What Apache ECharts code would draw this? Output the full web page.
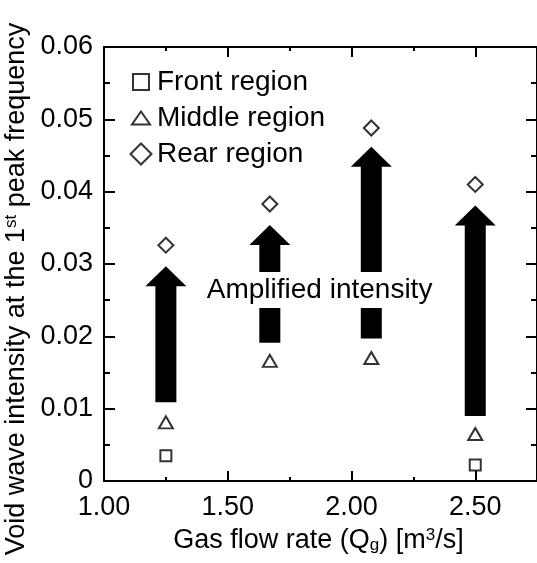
<!DOCTYPE html>
<html>
<head>
<meta charset="utf-8">
<script src="https://cdn.jsdelivr.net/npm/echarts@6/dist/echarts.min.js"></script>
<style>
  html, body { margin: 0; padding: 0; background: #fff; }
  #chart { width: 537px; height: 563px; }
</style>
</head>
<body>
<div id="chart"></div>
<script>
// gas flow rates (m3/s) of the four cases
const flowRate = [1.25, 1.67, 2.08, 2.5];
// front region only shows at two flow rates
const frontX = [1.25, 2.5];
const frontY = [0.0035, 0.0022];
const middleY = [0.0081, 0.0166, 0.0170, 0.0065];
const rearY = [0.0326, 0.0383, 0.0488, 0.0410];
// amplification arrows: from / to
const arrowFrom = [0.0109, 0.0191, 0.0197, 0.0090];
const arrowTo = [0.0297, 0.0354, 0.0462, 0.0381];
const noteText = ["Amplified intensity"];
const noteX = [1.871];
const noteY = [0.0264];
const seriesNames = ["Front region", "Middle region", "Rear region"];

const FONT = "'Liberation Sans', Arial, sans-serif";
const black = "#000";

const chart = echarts.init(document.getElementById("chart"));

const hollow = { color: "#fff", borderColor: black, borderWidth: 2 };
const tickStyle = { color: black, width: 2 };

function xAxisBase(pos) {
  return {
    type: "value",
    position: pos,
    min: 1,
    max: 3, // 2.75 sits on the right edge of the window
    interval: 0.5,
    axisLine: { onZero: false, lineStyle: { color: black, width: 2 } },
    axisTick: { inside: true, length: 10, lineStyle: tickStyle },
    minorTick: { show: true, splitNumber: 2, length: 4, lineStyle: tickStyle },
    splitLine: { show: false },
    minorSplitLine: { show: false },
  };
}

function yAxisBase(pos) {
  return {
    type: "value",
    position: pos,
    min: 0,
    max: 0.06,
    interval: 0.01,
    axisLine: { onZero: false, lineStyle: { color: black, width: 2 } },
    axisTick: { inside: true, length: 11, lineStyle: tickStyle },
    minorTick: { show: true, splitNumber: 2, length: 6, lineStyle: tickStyle },
    splitLine: { show: false },
    minorSplitLine: { show: false },
  };
}

const option = {
  animation: false,
  textStyle: { fontFamily: FONT, color: black },
  grid: {
    left: 104, right: -62, top: 47, bottom: 82,
    containLabel: false,
    outerBoundsMode: "none",
  },
  legend: {
    orient: "vertical",
    left: 124,
    top: 63,
    itemWidth: 22,
    itemHeight: 22,
    itemGap: 8,
    textStyle: { fontSize: 28, fontFamily: FONT, color: black },
    itemStyle: { color: "#fff", borderColor: black, borderWidth: 2 },
    data: [
      { name: seriesNames[0], icon: "path://M0,0M22,22M3,3H19V19H3Z" },
      { name: seriesNames[1], icon: "path://M0,0M22,22M11,4.5L20,17.5H2Z" },
      { name: seriesNames[2], icon: "path://M0,0M22,22M11,0.5L21.5,11L11,21.5L0.5,11Z" },
    ],
  },
  xAxis: [
    Object.assign(xAxisBase("bottom"), {
      axisLabel: {
        fontSize: 27,
        color: black,
        margin: 13,
        formatter: (v) => (v > 2.6 ? "" : v.toFixed(2)),
      },
      name: "Gas flow rate (Q{sub|g}) [m{sup|3}/s]",
      nameLocation: "middle",
      nameGap: 46,
      nameTextStyle: {
        fontSize: 27,
        fontFamily: FONT,
        color: black,
        padding: [0, 66, 0, 0],
        rich: {
          sub: { fontSize: 17, fontFamily: FONT, verticalAlign: "bottom" },
          sup: { fontSize: 17, fontFamily: FONT, verticalAlign: "top" },
        },
      },
    }),
    Object.assign(xAxisBase("top"), { axisLabel: { show: false } }),
  ],
  yAxis: [
    Object.assign(yAxisBase("left"), {
      axisLabel: {
        fontSize: 27,
        color: black,
        margin: 11,
        formatter: (v) => (v === 0 ? "0" : v.toFixed(2)),
      },
      name: "Void wave intensity at the 1{sup|st} peak frequency",
      nameLocation: "middle",
      nameGap: 70,
      nameTextStyle: {
        fontSize: 27,
        fontFamily: FONT,
        color: black,
        padding: [0, 50, 0, 0],
        rich: {
          sup: { fontSize: 17, fontFamily: FONT, verticalAlign: "top" },
        },
      },
    }),
    Object.assign(yAxisBase("right"), { offset: -62, axisLabel: { show: false } }),
  ],
  series: [
    {
      name: "arrows",
      type: "custom",
      z: 3,
      silent: true,
      data: flowRate.map((x, i) => [x, arrowFrom[i], arrowTo[i]]),
      encode: { x: 0, y: [1, 2] },
      renderItem: (params, api) => {
        const base = api.coord([api.value(0), api.value(1)]);
        const tip = api.coord([api.value(0), api.value(2)]);
        const x = base[0];
        const sw = 10.5; // shaft half width
        const hw = 20.5; // head half width
        const neck = tip[1] + 20;
        return {
          type: "polygon",
          shape: {
            points: [
              [x - sw, base[1]], [x - sw, neck], [x - hw, neck], [x, tip[1]],
              [x + hw, neck], [x + sw, neck], [x + sw, base[1]],
            ],
          },
          style: { fill: black },
        };
      },
    },
    {
      name: "note",
      type: "custom",
      z: 4,
      silent: true,
      data: noteX.map((x, i) => [x, noteY[i]]),
      renderItem: (params, api) => {
        const p = api.coord([api.value(0), api.value(1)]);
        return {
          type: "text",
          x: p[0],
          y: p[1],
          style: {
            text: noteText[params.dataIndex],
            fontSize: 28,
            fontFamily: FONT,
            fill: black,
            align: "center",
            verticalAlign: "middle",
            backgroundColor: "#fff",
            padding: [4, 2],
          },
        };
      },
    },
    {
      name: seriesNames[0],
      type: "scatter",
      z: 5,
      symbol: "rect",
      symbolSize: 11,
      itemStyle: hollow,
      emphasis: { disabled: true },
      data: frontX.map((x, i) => [x, frontY[i]]),
    },
    {
      name: seriesNames[1],
      type: "scatter",
      z: 5,
      symbol: "triangle",
      symbolSize: [14, 12],
      itemStyle: hollow,
      emphasis: { disabled: true },
      data: flowRate.map((x, i) => [x, middleY[i]]),
    },
    {
      name: seriesNames[2],
      type: "scatter",
      z: 5,
      symbol: "diamond",
      symbolSize: [15, 15],
      itemStyle: hollow,
      emphasis: { disabled: true },
      data: flowRate.map((x, i) => [x, rearY[i]]),
    },
  ],
};

chart.setOption(option);
</script>
</body>
</html>
